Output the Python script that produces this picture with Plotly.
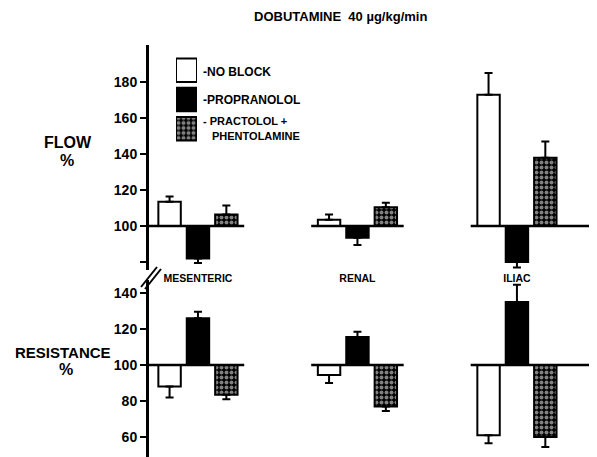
import plotly.graph_objects as go

# ---------------- data ----------------
regions = ["MESENTERIC", "RENAL", "ILIAC"]
series = ["NO BLOCK", "PROPRANOLOL", "PRACTOLOL + PHENTOLAMINE"]

flow_noblock = [113.5, 103.5, 173.0]
flow_noblock_err = [3.0, 3.0, 12.0]
flow_propranolol = [82.0, 93.5, 80.0]
flow_propranolol_err = [2.5, 4.0, 3.0]
flow_pp = [106.5, 110.5, 138.0]
flow_pp_err = [5.0, 2.5, 9.0]

res_noblock = [88.0, 94.5, 61.0]
res_noblock_err = [6.0, 4.5, 4.5]
res_propranolol = [126.0, 115.5, 135.0]
res_propranolol_err = [3.5, 3.0, 9.5]
res_pp = [83.5, 77.0, 60.0]
res_pp_err = [2.5, 2.5, 5.5]

flow_ticks = [80, 100, 120, 140, 160, 180]
flow_ticktext = ["", "100", "120", "140", "160", "180"]
res_ticks = [60, 80, 100, 120, 140]
res_ticktext = ["60", "80", "100", "120", "140"]

BASE = 100
W, H = 597, 457
OFF = 8  # default page margin of the html body
FW, FH = W - OFF, H - OFF
FONT = "Liberation Sans"


def px(x):
    return (x - OFF) / FW


def py(y):
    return 1 - (y - OFF) / FH


pat = dict(shape=".", fgcolor="white", bgcolor="black", size=5, solidity=0.5)
styles = [
    dict(color="white", line=dict(color="black", width=2)),
    dict(color="black", line=dict(color="black", width=2)),
    dict(color="black", line=dict(color="black", width=2), pattern=pat),
]


def err(vals, errs):
    up = [e if v > BASE else 0 for v, e in zip(vals, errs)]
    dn = [e if v < BASE else 0 for v, e in zip(vals, errs)]
    return dict(type="data", symmetric=False, array=up, arrayminus=dn,
                color="black", thickness=2, width=4)


fig = go.Figure()

groups = [
    ("x", "y", [(flow_noblock, flow_noblock_err), (flow_propranolol, flow_propranolol_err), (flow_pp, flow_pp_err)]),
    ("x2", "y2", [(res_noblock, res_noblock_err), (res_propranolol, res_propranolol_err), (res_pp, res_pp_err)]),
]
for xa, ya, data in groups:
    for i, (vals, errs) in enumerate(data):
        fig.add_trace(go.Bar(
            x=regions, y=[v - BASE for v in vals], base=BASE,
            name=series[i], offsetgroup=str(i),
            marker=styles[i], error_y=err(vals, errs),
            xaxis=xa, yaxis=ya, showlegend=False, hoverinfo="skip",
        ))

# custom legend boxes drawn as bars on a tiny axis
fig.add_trace(go.Bar(
    y=series, x=[1, 1, 1], orientation="h", width=0.8,
    marker=dict(color=["white", "black", "black"],
                line=dict(color="black", width=2),
                pattern=dict(shape=["", "", "."], fgcolor="white", bgcolor="black",
                             size=5, solidity=0.5)),
    xaxis="x3", yaxis="y3", showlegend=False, hoverinfo="skip",
))

n = len(regions)
x_lo, x_hi = -0.307, 2.502
xdom = [px(149), 1]

tickfont = dict(family=FONT, size=14, color="black", weight="bold")

fig.update_layout(
    width=FW, height=FH,
    margin=dict(l=0, r=0, t=0, b=0),
    paper_bgcolor="white", plot_bgcolor="white",
    barmode="group", bargap=0.466, bargroupgap=0.21,
    xaxis=dict(domain=xdom, range=[x_lo, x_hi], anchor="y",
               showline=False, showgrid=False, zeroline=False, ticks="",
               tickfont=dict(family=FONT, size=10.5, color="black", weight="bold")),
    yaxis=dict(domain=[py(270), py(45)], range=[75.6, 200.6], anchor="x",
               showline=True, linecolor="black", linewidth=3,
               showgrid=False, zeroline=False,
               ticks="outside", ticklen=6, tickwidth=2, tickcolor="black",
               tickvals=flow_ticks, ticktext=flow_ticktext, tickfont=tickfont),
    xaxis2=dict(domain=xdom, range=[x_lo, x_hi], anchor="y2", matches="x",
                visible=False),
    yaxis2=dict(domain=[0, py(280)], range=[48.9, 147.2], anchor="x2",
                showline=True, linecolor="black", linewidth=3,
                showgrid=False, zeroline=False,
                ticks="outside", ticklen=6, tickwidth=2, tickcolor="black",
                tickvals=res_ticks, ticktext=res_ticktext, tickfont=tickfont),
    xaxis3=dict(domain=[px(176), px(197)], range=[0, 1], anchor="y3", visible=False),
    yaxis3=dict(domain=[py(143.5), py(55.5)], range=[2.5, -0.5], anchor="x3", visible=False),
)

# baselines at 100 for each region, top and bottom panels
shapes = []
for yref in ("y", "y2"):
    for c in range(n):
        lo = -0.31 if c == 0 else c - 0.29
        hi = x_hi if c == n - 1 else c + 0.29
        shapes.append(dict(type="line", xref="x", yref=yref, x0=lo, x1=hi,
                           y0=BASE, y1=BASE, line=dict(color="black", width=2.5)))

# axis break marks
for dx in (0, 4):
    shapes.append(dict(type="line", xref="paper", yref="paper",
                       x0=px(141 + dx), y0=py(287 + dx * 0.5),
                       x1=px(157 + dx), y1=py(267 + dx * 0.5),
                       line=dict(color="black", width=2)))
fig.update_layout(shapes=shapes)

ann = []


def text(x, y, s, size, xanchor="center"):
    ann.append(dict(x=px(x), y=py(y), xref="paper", yref="paper", text=s,
                    showarrow=False, xanchor=xanchor, yanchor="middle",
                    font=dict(family=FONT, size=size, color="black", weight="bold")))


text(340, 17, "DOBUTAMINE  40 \u00b5g/kg/min", 13)
text(68, 142, "FLOW", 16)
text(67, 161, "%", 16)
text(63, 352, "RESISTANCE", 15)
text(66, 369, "%", 16)
text(201, 72, "-NO BLOCK", 12, "left")
text(201, 100, "-PROPRANOLOL", 12, "left")
text(201, 121, "- PRACTOLOL +", 11, "left")
text(210, 136, "PHENTOLAMINE", 11, "left")
fig.update_layout(annotations=ann)

fig.write_html("out.html")
